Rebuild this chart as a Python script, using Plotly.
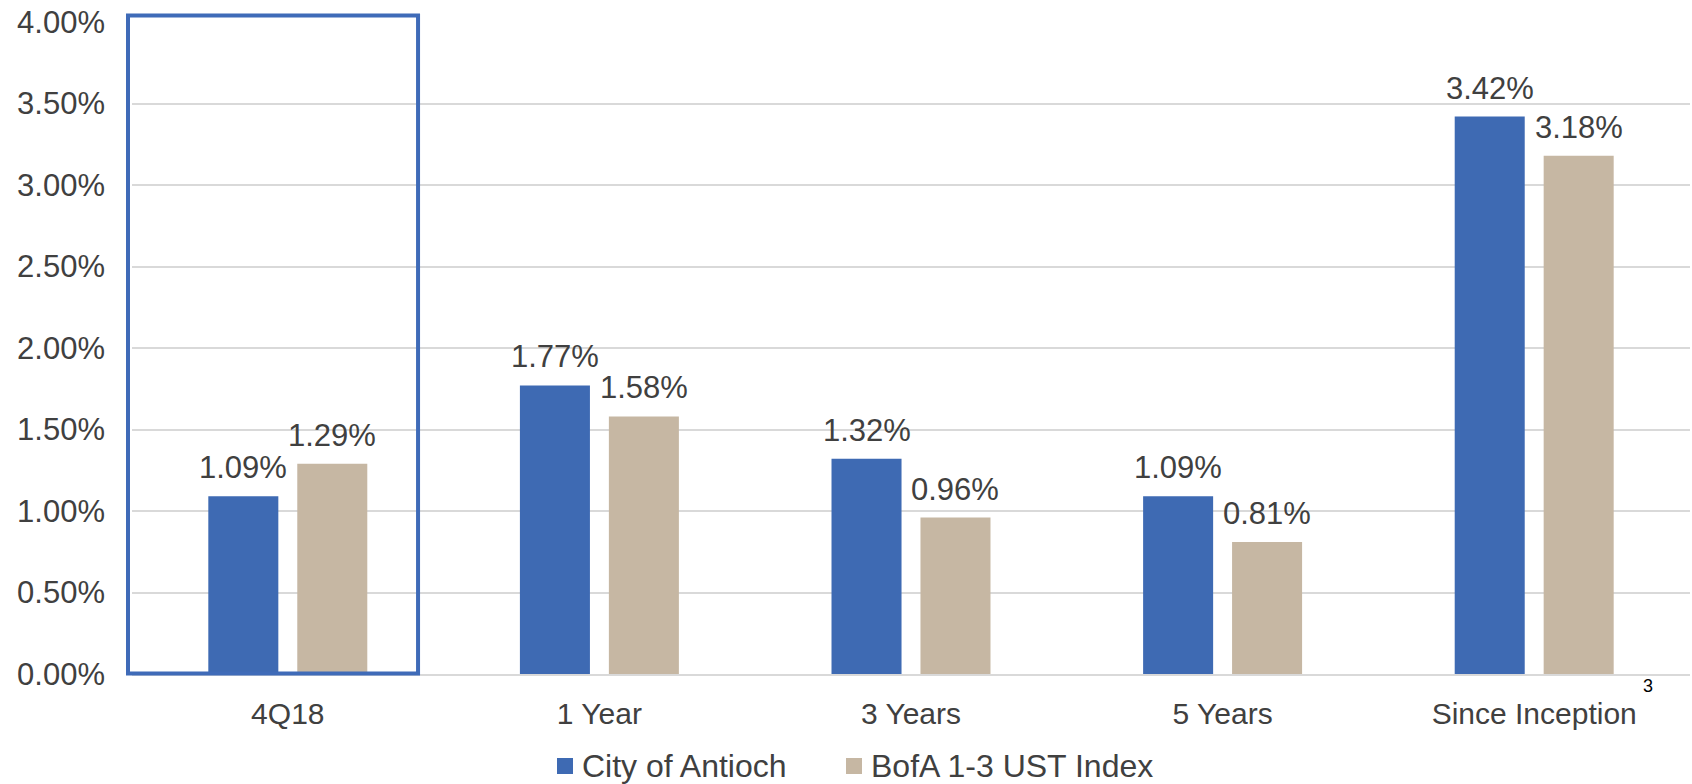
import plotly.graph_objects as go

# Annualized returns by period
periods = ["4Q18", "1 Year", "3 Years", "5 Years", "Since Inception"]
city_of_antioch = [1.09, 1.77, 1.32, 1.09, 3.42]
bofa_index = [1.29, 1.58, 0.96, 0.81, 3.18]
series_names = ["City of Antioch", "BofA 1-3 UST Index"]
y_ticks = [0, 0.5, 1.0, 1.5, 2.0, 2.5, 3.0, 3.5, 4.0]

BLUE = "#3E6AB3"
TAN = "#C6B7A3"
TEXT = "#404040"
FONT = "Liberation Sans, Arial, sans-serif"

W, H = 1692, 784
L, R, T, B = 132, 2, 22, 110
plot_w = W - L - R
plot_h = H - T - B
cat_w = plot_w / len(periods)
colors = [BLUE, TAN]
series = [city_of_antioch, bofa_index]

fig = go.Figure()
for name, vals, color in zip(series_names, series, colors):
    fig.add_trace(go.Bar(
        x=periods, y=vals, name=name, marker=dict(color=color, line=dict(width=0)),
        hoverinfo="skip", showlegend=False,
    ))

# value labels above each bar
bargap, groupgap = 0.429, 0.213
slot = cat_w * (1 - bargap) / 2
annotations = []
for k, vals in enumerate(series):
    shift = (k - 0.5) * slot
    for p, v in zip(periods, vals):
        annotations.append(dict(
            x=p, y=v, xref="x", yref="y", text=f"{v:.2f}%", showarrow=False,
            xanchor="center", yanchor="bottom", xshift=shift, yshift=9,
            font=dict(size=31, color=TEXT, family=FONT),
        ))

# footnote marker on the last category label
annotations.append(dict(
    x=periods[-1], y=0, xref="x", yref="paper", text="3", showarrow=False,
    xanchor="center", yanchor="middle", xshift=114, yshift=-12,
    font=dict(size=18, color="#000000", family=FONT),
))

def px_x(px):
    return (px - L) / plot_w

def px_y(py):
    return (H - B - py) / plot_h

# legend row: square swatch followed by the series name
shapes = []
legend_starts = [557, 846]
for name, color, x0 in zip(series_names, colors, legend_starts):
    shapes.append(dict(
        type="rect", xref="paper", yref="paper",
        x0=px_x(x0), x1=px_x(x0 + 16), y0=px_y(774), y1=px_y(758),
        line=dict(width=0), fillcolor=color,
    ))
    annotations.append(dict(
        x=px_x(x0 + 23), y=px_y(766), xref="paper", yref="paper", text=name,
        showarrow=False, xanchor="left", yanchor="middle",
        font=dict(size=32, color=TEXT, family=FONT),
    ))

# highlight frame around the current quarter
def cat_to_paper(pos):
    return (pos + 0.5) / len(periods)

shapes.append(dict(
    type="rect", xref="paper", yref="paper",
    x0=cat_to_paper(-0.5) - 4 / plot_w, x1=cat_to_paper(0.418),
    y0=0.5 / plot_h, y1=1.0 + 6.5 / plot_h,
    line=dict(color="#3F6BB8", width=4), fillcolor="rgba(0,0,0,0)", layer="above",
))

fig.update_layout(
    width=W, height=H,
    margin=dict(l=L, r=R, t=T, b=B, autoexpand=False),
    paper_bgcolor="white", plot_bgcolor="white",
    barmode="group", bargap=bargap, bargroupgap=groupgap,
    font=dict(family=FONT, size=30, color=TEXT),
    showlegend=False,
    annotations=annotations,
    shapes=shapes,
    xaxis=dict(
        type="category", showgrid=False, showline=True, linecolor="#D9D9D9",
        linewidth=2, ticks="", ticklabelstandoff=12,
        tickfont=dict(size=30, color=TEXT, family=FONT),
    ),
    yaxis=dict(
        range=[0, 4], tickvals=y_ticks, ticktext=[f"{t:.2f}%" for t in y_ticks],
        showgrid=True, gridcolor="#D9D9D9", gridwidth=1.5, zeroline=False,
        showline=False, ticks="", ticklabelstandoff=26,
        tickfont=dict(size=31, color=TEXT, family=FONT),
    ),
)

fig.write_html("out.html")
